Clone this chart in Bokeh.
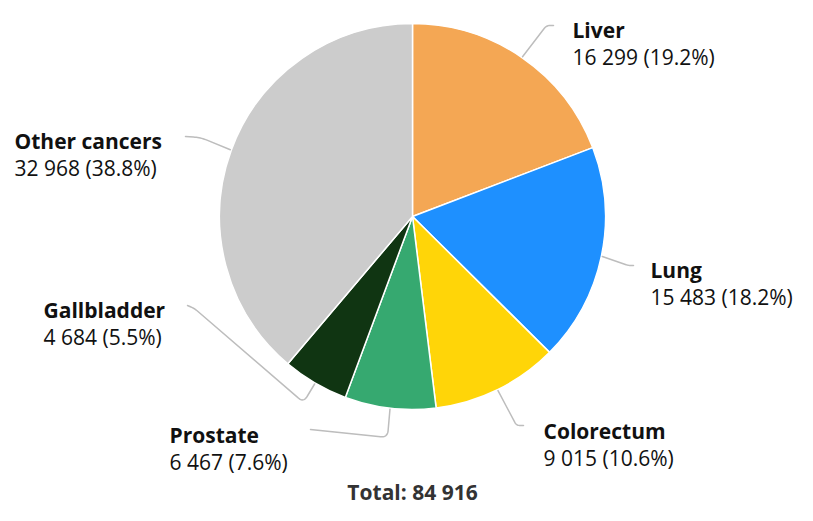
import math
from bokeh.plotting import figure
from bokeh.models import Range1d, ColumnDataSource
from bokeh.core.properties import value
from bokeh.embed import file_html
from bokeh.resources import INLINE

# ---------------- data ----------------
categories = ["Liver", "Lung", "Colorectum", "Prostate", "Gallbladder", "Other cancers"]
counts = [16299, 15483, 9015, 6467, 4684, 32968]
colors = ["#F4A754", "#1E90FF", "#FFD508", "#36A970", "#103512", "#CCCCCC"]

# ---------------- layout (screen px) ----------------
FONT = "Open Sans"
FS = "21px"
CX, CY, R = 412, 216, 193
TEXT_DY = -8  # baseline correction for svg text
# label left x, name baseline y
label_pos = [(572, 37), (650, 277), (543, 438), (169, 442), (43, 317), (14, 148)]
LINE_GAP = 27
# connector path after the start point on the pie edge
connector_paths = [
    [(546, 25), (553, 25)],
    [(628, 265), (633, 265)],
    [(516, 425), (523, 425)],
    [(387, 437), (310, 429)],
    [(303, 402), (194, 308), (187, 305)],
    [(200, 137), (185, 136)],
]
TOTAL_BASELINE = 499

total = sum(counts)
fracs = [c / total for c in counts]


def fmt(n):
    return f"{n:,}".replace(",", " ")


p = figure(width=797, height=505, output_backend="svg", toolbar_location=None,
           x_range=Range1d(0, 797), y_range=Range1d(-505, 0), min_border=0)
p.axis.visible = False
p.grid.visible = False
p.outline_line_color = None
p.background_fill_color = "white"

# wedges (clockwise from 12 o'clock)
starts, ends, mids = [], [], []
cum = 0.0
for f in fracs:
    a_before = cum * 2 * math.pi
    cum += f
    a_after = cum * 2 * math.pi
    starts.append(math.pi / 2 - a_after)
    ends.append(math.pi / 2 - a_before)
    mids.append((a_before + a_after) / 2)

src = ColumnDataSource(dict(start=starts, end=ends, color=colors))
p.wedge(x=CX, y=-CY, radius=R, start_angle="start", end_angle="end",
        direction="anticlock", fill_color="color", line_color="white",
        line_width=1.5, source=src)


def rounded(points, r=7, n=10):
    out = [points[0]]
    for i in range(1, len(points) - 1):
        p0, p1, p2 = points[i - 1], points[i], points[i + 1]
        d1 = math.dist(p0, p1)
        d2 = math.dist(p1, p2)
        rr = min(r, d1 / 2, d2 / 2)
        a = (p1[0] + (p0[0] - p1[0]) / d1 * rr, p1[1] + (p0[1] - p1[1]) / d1 * rr)
        b = (p1[0] + (p2[0] - p1[0]) / d2 * rr, p1[1] + (p2[1] - p1[1]) / d2 * rr)
        for k in range(n + 1):
            t = k / n
            x = (1 - t) ** 2 * a[0] + 2 * (1 - t) * t * p1[0] + t ** 2 * b[0]
            y = (1 - t) ** 2 * a[1] + 2 * (1 - t) * t * p1[1] + t ** 2 * b[1]
            out.append((x, y))
    out.append(points[-1])
    return out


xs, ys = [], []
for m, path in zip(mids, connector_paths):
    sx = CX + (R + 1) * math.sin(m)
    sy = CY - (R + 1) * math.cos(m)
    pts = rounded([(sx, sy)] + path)
    xs.append([q[0] for q in pts])
    ys.append([-q[1] for q in pts])
p.multi_line(xs=xs, ys=ys, line_color="#BDBDBD", line_width=1.5,
             line_join="round", line_cap="round")

names_x = [lp[0] for lp in label_pos]
names_y = [-(lp[1] + TEXT_DY) for lp in label_pos]
vals_y = [-(lp[1] + LINE_GAP + TEXT_DY) for lp in label_pos]
val_txt = [f"{fmt(c)} ({f * 100:.1f}%)" for c, f in zip(counts, fracs)]

p.text(x=names_x, y=names_y, text=categories, text_font=value(FONT),
       text_font_size=FS, text_font_style="bold", text_color="#111111",
       text_align="left", text_baseline="alphabetic")
p.text(x=names_x, y=vals_y, text=val_txt, text_font=value(FONT),
       text_font_size=FS, text_color="#111111",
       text_align="left", text_baseline="alphabetic")

p.text(x=[CX], y=[-(TOTAL_BASELINE + TEXT_DY)], text=[f"Total: {fmt(total)}"],
       text_font=value(FONT), text_font_size=FS, text_font_style="bold",
       text_color="#333333", text_align="center", text_baseline="alphabetic")

open("out.html", "w").write(file_html(p, INLINE))
